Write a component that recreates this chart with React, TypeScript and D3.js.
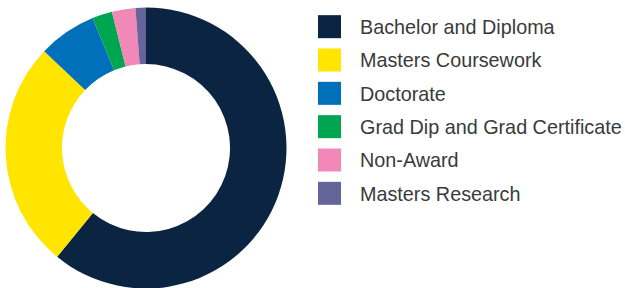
import React from "react";
import * as d3 from "d3";

const categories = [
  "Bachelor and Diploma",
  "Masters Coursework",
  "Doctorate",
  "Grad Dip and Grad Certificate",
  "Non-Award",
  "Masters Research",
];
const values = [60.9, 26.2, 6.7, 2.3, 2.7, 1.2];
const colors = ["#0a2441", "#ffe500", "#0070ba", "#00a54f", "#f288b8", "#65659a"];

export default function App() {
  const width = 625;
  const height = 288;
  const cx = 146;
  const cy = 148;
  const outerR = 140.5;
  const innerR = 84;

  const pie = d3.pie<number>().sort(null).value((d) => d);
  const arcs = pie(values);
  const arc = d3.arc<d3.PieArcDatum<number>>().innerRadius(innerR).outerRadius(outerR);

  const legendY = d3.scaleBand<string>().domain(categories).range([10, 210]).paddingInner(0);

  return (
    <svg
      width={width}
      height={height}
      style={{ position: "absolute", left: 0, top: 0, display: "block" }}
    >
      <rect width={width} height={height} fill="#ffffff" />
      <g transform={`translate(${cx},${cy})`}>
        {arcs.map((a, i) => (
          <path key={i} d={arc(a) || ""} fill={colors[i]} />
        ))}
      </g>
      <g>
        {categories.map((c, i) => {
          const y = (legendY(c) as number) + legendY.bandwidth() / 2;
          return (
            <g key={c}>
              <rect x={318} y={y - 11.5} width={23} height={23} fill={colors[i]} />
              <text
                x={360}
                y={y + 7.3}
                fontFamily="'Liberation Sans', Arial, sans-serif"
                fontWeight={400}
                fontSize={19.8}
                fill="#3a3a3a"
              >
                {c}
              </text>
            </g>
          );
        })}
      </g>
    </svg>
  );
}
